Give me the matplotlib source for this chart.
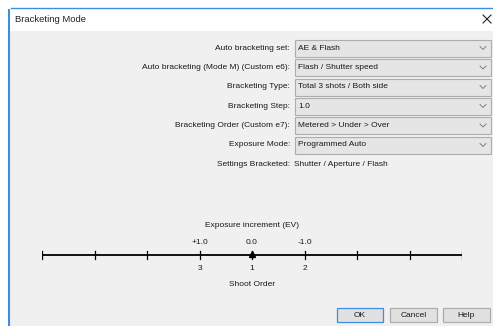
from matplotlib import pyplot as plt
from matplotlib.patches import Rectangle
import numpy as np

# Dialog content
title = "Bracketing Mode"
field_labels = ["Auto bracketing set:", "Auto bracketing (Mode M) (Custom e6):",
                "Bracketing Type:", "Bracketing Step:",
                "Bracketing Order (Custom e7):", "Exposure Mode:"]
field_values = ["AE & Flash", "Flash / Shutter speed", "Total 3 shots / Both side",
                "1.0", "Metered > Under > Over", "Programmed Auto"]
settings_label = "Settings Bracketed:"
settings_value = "Shutter / Aperture / Flash"

# Exposure scale
scale_ticks = [-4, -3, -2, -1, 0, 1, 2, 3, 4]
shot_pos = [-1, 0, 1]
ev_labels = ["+1.0", "0.0", "-1.0"]
order_labels = ["3", "1", "2"]
metered_pos = 0

buttons = ["OK", "Cancel", "Help"]

plt.rcParams['font.family'] = ['Liberation Sans', 'DejaVu Sans']
FS = 6.0

fig = plt.figure(figsize=(4.93, 3.26), dpi=100)
fig.patch.set_facecolor("white")

# 1. full size area in pixel units for the dialog itself
ax = fig.add_axes([0, 0, 1, 1])
ax.set_xlim(0, 493)
ax.set_ylim(326, 0)
ax.axis("off")

# window body + title bar
ax.add_patch(Rectangle((8, 31), 485, 295, facecolor="#f0f0f0", edgecolor="none"))
ax.add_patch(Rectangle((8, 7), 485, 24, facecolor="white", edgecolor="none"))
ax.plot([11, 493], [7.5, 7.5], color="#3c8fde", linewidth=1)
ax.plot([8.5, 8.5], [10, 326], color="#3c8fde", linewidth=1.5)
ax.text(15, 19, title, fontsize=6.8, va="center", ha="left", color="#222222")
# close cross
ax.plot([483, 491], [15, 23], color="#222222", linewidth=0.8)
ax.plot([483, 491], [23, 15], color="#222222", linewidth=0.8)

# combo boxes
row_y = [48, 67.5, 87, 106, 125.5, 145]
for i in range(len(field_labels)):
    y = row_y[i]
    ax.text(290, y, field_labels[i], fontsize=FS, ha="right", va="center", color="#1a1a1a")
    ax.add_patch(Rectangle((294.5, y - 8.5), 196, 17, facecolor="#e5e5e5",
                           edgecolor="#adadad", linewidth=0.8))
    ax.text(298, y, field_values[i], fontsize=FS, ha="left", va="center", color="#1a1a1a")
    ax.plot([480, 483, 486], [y - 1.5, y + 1.5, y - 1.5], color="#707070", linewidth=0.6)

ax.text(290, 165, settings_label, fontsize=FS, ha="right", va="center", color="#1a1a1a")
ax.text(294, 165, settings_value, fontsize=FS, ha="left", va="center", color="#1a1a1a")

# buttons
btn_x = [337, 390, 443]
btn_w = [46, 47, 47]
for i in range(len(buttons)):
    edge = "#3c8fde" if i == 0 else "#adadad"
    ax.add_patch(Rectangle((btn_x[i], 308), btn_w[i], 14, facecolor="#e1e1e1",
                           edgecolor=edge, linewidth=0.9))
    ax.text(btn_x[i] + btn_w[i] / 2, 315.5, buttons[i], fontsize=FS, ha="center",
            va="center", color="#1a1a1a")

# 2. exposure ruler drawn in its own axes (data units = shots)
rx = fig.add_axes([42 / 493, 1 - 300 / 326, 420 / 493, 90 / 326])
rx.set_xlim(-4, 4)
rx.set_ylim(-1, 1)
rx.axis("off")
rx.patch.set_alpha(0)
rx.plot([scale_ticks[0], scale_ticks[-1]], [0, 0], color="black", linewidth=1.3)
for t in scale_ticks:
    rx.plot([t, t], [-0.09, 0.09], color="black", linewidth=0.9)
rx.plot([metered_pos], [0.03], marker="^", color="black", markersize=4.5)
for p, ev, od in zip(shot_pos, ev_labels, order_labels):
    rx.text(p, 0.28, ev, fontsize=FS, ha="center", va="center", color="#1a1a1a")
    rx.text(p, -0.31, od, fontsize=FS, ha="center", va="center", color="#1a1a1a")
rx.text(0, 0.66, "Exposure increment (EV)", fontsize=FS, ha="center", va="center", color="#1a1a1a")
rx.text(0, -0.66, "Shoot Order", fontsize=FS, ha="center", va="center", color="#1a1a1a")

plt.savefig("out.png", dpi=100, facecolor=fig.get_facecolor())
